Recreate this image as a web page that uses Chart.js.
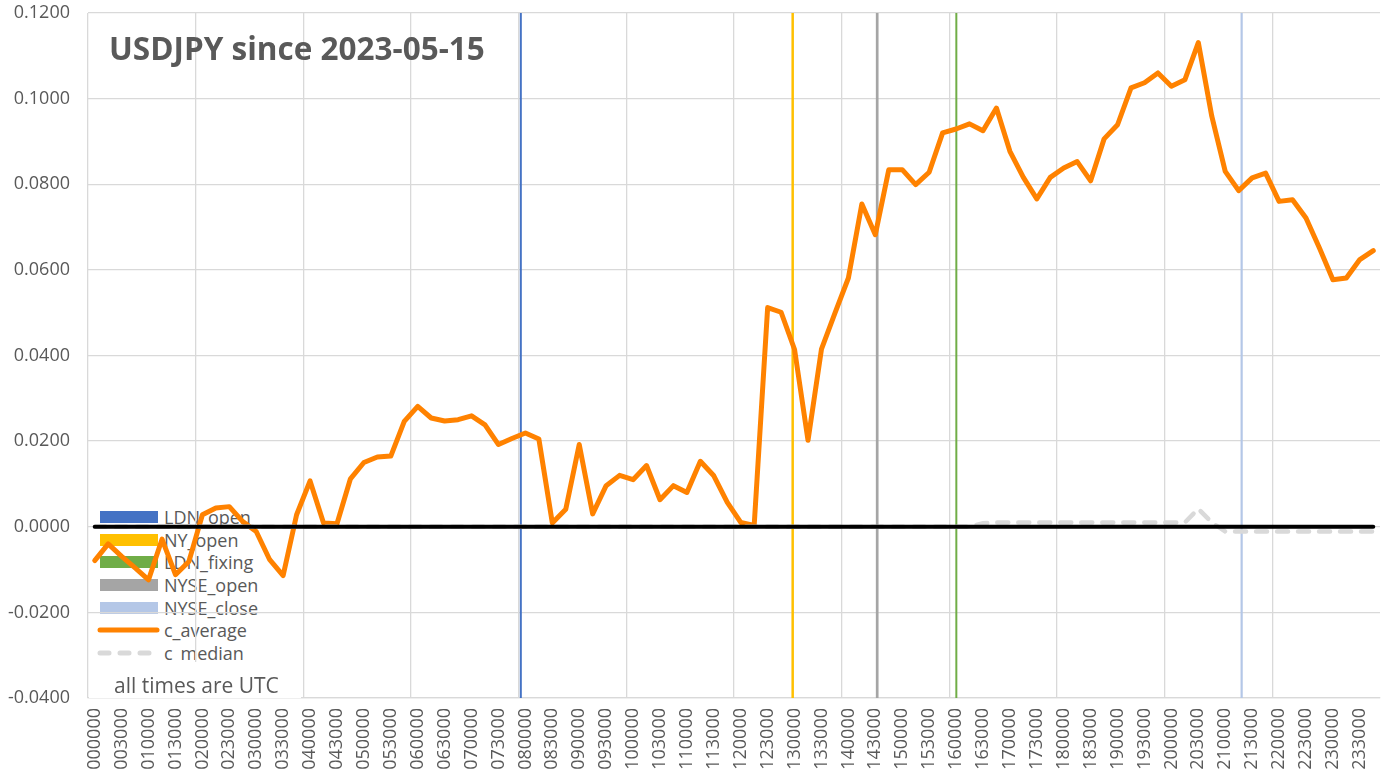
<!DOCTYPE html>
<html>
<head>
<meta charset="utf-8">
<title>USDJPY since 2023-05-15</title>
<script src="https://cdn.jsdelivr.net/npm/chart.js@4.4.0/dist/chart.umd.min.js"></script>
<style>
  body { margin: 0; background: #fff; font-family: "Open Sans", sans-serif; color: #595959; }
  #wrap { position: relative; width: 1397px; height: 781px; }
  #myChart { position: absolute; left: 0; top: 0; z-index: 1; }
  #legend { position: absolute; left: 97px; top: 506px; z-index: 0; font-size: 18px; }
  .row { display: flex; align-items: center; height: 22.6px; }
  .row span { margin-left: 3px; white-space: nowrap; }
  #title { position: absolute; left: 109px; top: 26px; z-index: 2; font-size: 31.5px; font-weight: bold; white-space: nowrap; }
  #note { position: absolute; left: 89px; top: 662px; width: 212px; height: 36px; background: #fff; z-index: 2;
          font-size: 21px; line-height: 24px; padding: 11px 0 0 25px; box-sizing: border-box; white-space: nowrap; }
</style>
</head>
<body>
<div id="wrap">
  <div id="legend"></div>
  <canvas id="myChart" width="1397" height="781"></canvas>
  <div id="title">USDJPY since 2023-05-15</div>
  <div id="note">all times are UTC</div>
</div>
<script>
// x categories, every 15 minutes (UTC)
const categories = [
  '000000','001500','003000','004500','010000','011500','013000','014500',
  '020000','021500','023000','024500','030000','031500','033000','034500',
  '040000','041500','043000','044500','050000','051500','053000','054500',
  '060000','061500','063000','064500','070000','071500','073000','074500',
  '080000','081500','083000','084500','090000','091500','093000','094500',
  '100000','101500','103000','104500','110000','111500','113000','114500',
  '120000','121500','123000','124500','130000','131500','133000','134500',
  '140000','141500','143000','144500','150000','151500','153000','154500',
  '160000','161500','163000','164500','170000','171500','173000','174500',
  '180000','181500','183000','184500','190000','191500','193000','194500',
  '200000','201500','203000','204500','210000','211500','213000','214500',
  '220000','221500','223000','224500','230000','231500','233000','234500'
];

const cAverage = [
  -0.0079, -0.0040, -0.0069, -0.0096, -0.0124, -0.0029, -0.0112, -0.0081,
   0.0028,  0.0044,  0.0047,  0.0012, -0.0011, -0.0077, -0.0114,  0.0028,
   0.0107,  0.0009,  0.0007,  0.0112,  0.0150,  0.0163,  0.0165,  0.0246,
   0.0281,  0.0254,  0.0247,  0.0250,  0.0259,  0.0238,  0.0192,  0.0206,
   0.0219,  0.0205,  0.0009,  0.0041,  0.0192,  0.0030,  0.0096,  0.0120,
   0.0110,  0.0143,  0.0063,  0.0096,  0.0080,  0.0153,  0.0119,  0.0057,
   0.0010,  0.0003,  0.0512,  0.0501,  0.0414,  0.0202,  0.0415,  0.0499,
   0.0581,  0.0754,  0.0682,  0.0834,  0.0834,  0.0799,  0.0828,  0.0920,
   0.0929,  0.0941,  0.0925,  0.0978,  0.0877,  0.0816,  0.0766,  0.0816,
   0.0838,  0.0853,  0.0808,  0.0906,  0.0939,  0.1025,  0.1037,  0.1060,
   0.1029,  0.1044,  0.1131,  0.0959,  0.0830,  0.0785,  0.0815,  0.0826,
   0.0760,  0.0764,  0.0721,  0.0651,  0.0577,  0.0581,  0.0624,  0.0645
];

const cMedian = [
   0, 0, 0, 0, 0, 0, 0, 0,  0, 0, 0, 0, 0, 0, 0, 0,
   0, 0, 0, 0, 0, 0, 0, 0,  0, 0, 0, 0, 0, 0, 0, 0,
   0, 0, 0, 0, 0, 0, 0, 0,  0, 0, 0, 0, 0, 0, 0, 0,
   0, 0, 0, 0, 0, 0, 0, 0,  0, 0, 0, 0, 0, 0, 0, 0,
   0, 0, 0.0008, 0.0010, 0.0010, 0.0010, 0.0010, 0.0010,
   0.0010, 0.0010, 0.0010, 0.0010, 0.0010, 0.0010, 0.0010, 0.0010,
   0.0010, 0.0010, 0.0042, 0.0010, -0.0011, -0.0011, -0.0011, -0.0011,
   -0.0011, -0.0011, -0.0011, -0.0011, -0.0011, -0.0011, -0.0011, -0.0011
];

// market events, in hours UTC
const eventNames = ['LDN_open', 'NY_open', 'LDN_fixing', 'NYSE_open', 'NYSE_close'];
const eventHours = [8.04, 13.09, 16.13, 14.66, 21.43];

// y axis range and tick step
const yMin = -0.04;
const yMax = 0.12;
const yStep = 0.02;

const eventStyle = {
  LDN_open:   { color: '#4472C4', width: 2 },
  NY_open:    { color: '#FFC000', width: 2.5 },
  LDN_fixing: { color: '#70AD47', width: 2 },
  NYSE_open:  { color: '#A5A5A5', width: 2.7 },
  NYSE_close: { color: '#B4C7E7', width: 2.2 }
};

const textColor = '#595959';
const gridColor = '#d9d9d9';
const tickFont = { family: 'Open Sans', size: 18 };

const eventSets = eventNames.map((name, k) => ({
  label: name,
  xAxisID: 'xh',
  data: [{ x: eventHours[k], y: yMin }, { x: eventHours[k], y: yMax }],
  borderColor: eventStyle[name].color,
  backgroundColor: eventStyle[name].color,
  borderWidth: eventStyle[name].width,
  pointRadius: 0,
  order: 3
}));

const datasets = eventSets.concat([
  {
    label: 'c_average',
    data: cAverage,
    borderColor: '#FF8200',
    borderWidth: 5,
    borderJoinStyle: 'round',
    borderCapStyle: 'round',
    pointRadius: 0,
    order: 2
  },
  {
    label: 'c_median',
    data: cMedian,
    borderColor: '#d9d9d9',
    borderWidth: 4.5,
    borderDash: [11, 10],
    borderCapStyle: 'round',
    pointRadius: 0,
    order: 1
  },
  {
    label: 'zero',
    hideInLegend: true,
    data: categories.map(() => 0),
    borderColor: '#000',
    borderWidth: 4,
    borderCapStyle: 'round',
    pointRadius: 0,
    order: 0
  }
]);

// Create the chart
const ctx = document.getElementById('myChart').getContext('2d');
const myChart = new Chart(ctx, {
  type: 'line',
  data: { labels: categories, datasets: datasets },
  options: {
    responsive: false,
    animation: false,
    devicePixelRatio: 1,
    layout: { padding: 0 },
    plugins: {
      legend: { display: false },
      tooltip: { enabled: false }
    },
    scales: {
      x: {
        type: 'category',
        offset: true,
        grid: {
          offset: true,
          drawTicks: false,
          lineWidth: 1.3,
          color: (c) => (c.index % 8 === 0 ? gridColor : 'transparent')
        },
        border: { color: gridColor, width: 1.3 },
        ticks: {
          autoSkip: false,
          minRotation: 90,
          maxRotation: 90,
          padding: 10,
          color: textColor,
          font: tickFont,
          callback: (v, i) => (i % 2 === 0 ? categories[i] : '')
        },
        afterFit: (s) => {
          s.height = 83;
          s.paddingLeft = 0;
          s.paddingRight = 17;
        }
      },
      xh: { type: 'linear', display: false, min: 0, max: 24 },
      y: {
        min: yMin,
        max: yMax,
        grid: { color: gridColor, lineWidth: 1.3, drawTicks: false },
        border: { display: false },
        ticks: {
          stepSize: yStep,
          padding: 18,
          color: textColor,
          font: tickFont,
          callback: (v) => (Math.abs(v) < 1e-9 ? 0 : v).toFixed(4)
        },
        afterFit: (s) => {
          s.width = 88;
          s.paddingTop = 13;
          s.paddingBottom = 0;
        }
      }
    }
  }
});

// legend, drawn under the (transparent) canvas like in the original
const legendBox = document.getElementById('legend');
datasets.filter((ds) => !ds.hideInLegend).forEach((ds) => {
  let sw;
  if (ds.xAxisID === 'xh') {
    sw = '<svg width="64" height="14"><rect x="3" y="1" width="58" height="12" fill="' + ds.borderColor + '"/></svg>';
  } else {
    const dash = ds.borderDash ? ' stroke-dasharray="9 11"' : '';
    sw = '<svg width="64" height="14"><line x1="3" y1="7" x2="60" y2="7" stroke="' + ds.borderColor +
         '" stroke-width="5" stroke-linecap="round"' + dash + '/></svg>';
  }
  const row = document.createElement('div');
  row.className = 'row';
  row.innerHTML = sw + '<span>' + ds.label + '</span>';
  legendBox.appendChild(row);
});
</script>
</body>
</html>
